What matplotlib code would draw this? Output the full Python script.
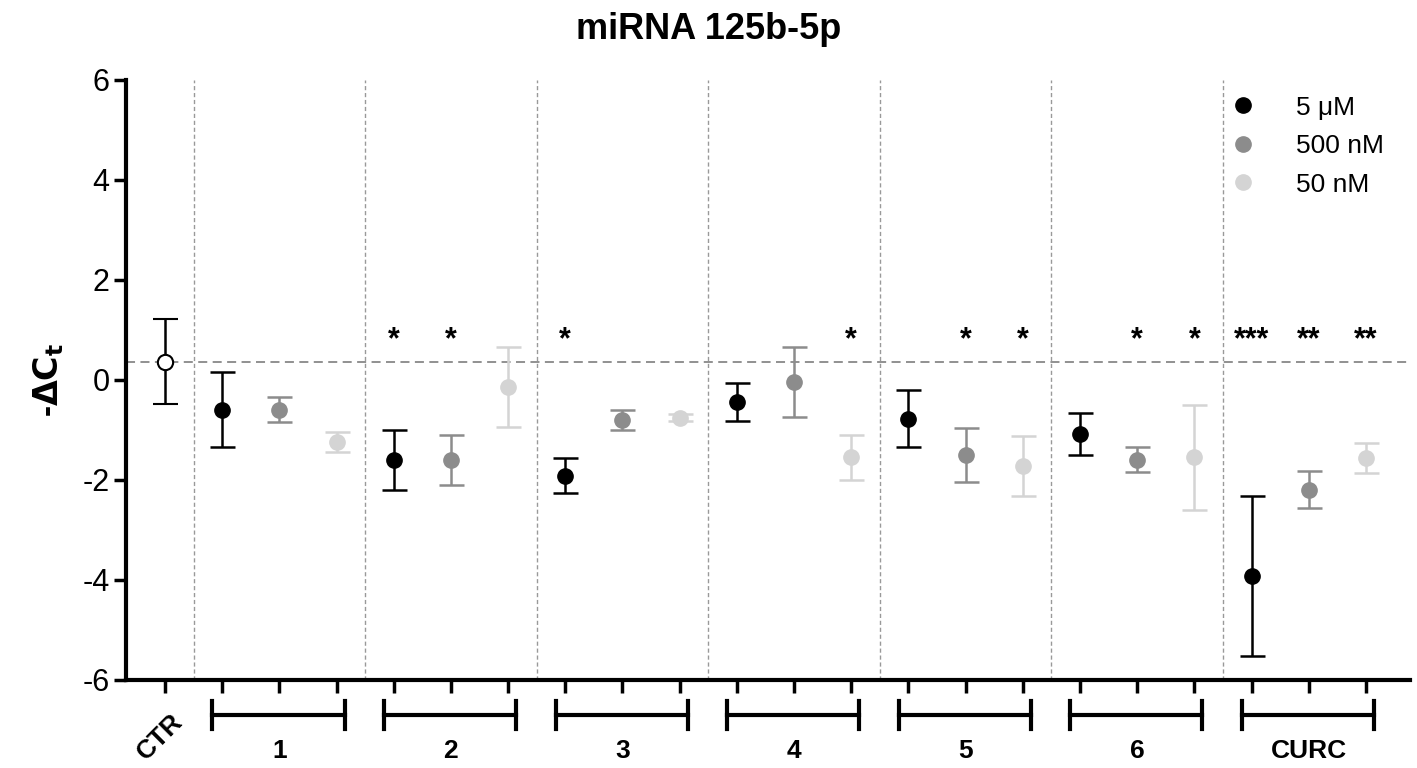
import matplotlib.pyplot as plt
import numpy as np

groups = ["1", "2", "3", "4", "5", "6", "CURC"]
doses = ["5 \u03bcM", "500 nM", "50 nM"]
colors = ["#000000", "#8c8c8c", "#d4d4d4"]

ctr_mean = 0.36
ctr_err = 0.85

# rows = groups, columns = doses
means = np.array([
    [-0.60, -0.60, -1.25],
    [-1.60, -1.60, -0.15],
    [-1.92, -0.80, -0.76],
    [-0.45, -0.05, -1.55],
    [-0.78, -1.50, -1.72],
    [-1.08, -1.60, -1.55],
    [-3.92, -2.20, -1.56],
])
errs = np.array([
    [0.75, 0.25, 0.20],
    [0.60, 0.50, 0.80],
    [0.35, 0.20, 0.07],
    [0.38, 0.70, 0.45],
    [0.57, 0.54, 0.60],
    [0.42, 0.25, 1.05],
    [1.60, 0.37, 0.30],
])
stars = [
    ["", "", ""],
    ["*", "*", ""],
    ["*", "", ""],
    ["", "", "*"],
    ["", "*", "*"],
    ["", "*", "*"],
    ["***", "**", "**"],
]

plt.rcParams['font.family'] = ['Liberation Sans', 'DejaVu Sans']
plt.rcParams['axes.unicode_minus'] = False

fig = plt.figure(figsize=(14.17, 7.68), dpi=100)
ax = fig.add_axes([0.089, 0.1146, 0.906, 0.7815])

# control
ax.errorbar([0], [ctr_mean], yerr=[ctr_err], fmt='o', mfc='white', mec='black',
            ms=11, mew=1.5, ecolor='black', elinewidth=1.8, capsize=9, capthick=1.8, zorder=3)

for g in range(len(groups)):
    for d in range(3):
        x = 1 + g * 3 + d
        ax.errorbar([x], [means[g, d]], yerr=[errs[g, d]], fmt='o', color=colors[d],
                    ms=11, ecolor=colors[d], elinewidth=1.8, capsize=9, capthick=1.8, zorder=3)
        if stars[g][d]:
            ax.text(x, 0.8, stars[g][d], ha='center', va='center', fontsize=22, fontweight='bold')
    # group separators
    ax.axvline(0.5 + g * 3, color='#999999', lw=1, ls=(0, (3, 2)), zorder=1)

ax.axhline(ctr_mean, color='#888888', lw=1.3, ls=(0, (5, 3)), zorder=1)

# legend
for d in range(3):
    ax.plot([], [], 'o', color=colors[d], ms=11, label=doses[d])
ax.legend(loc='upper right', frameon=False, fontsize=19, handletextpad=1.0,
          borderaxespad=0.2, labelspacing=0.55, bbox_to_anchor=(0.992, 1.0))

ax.set_xlim(-0.68, 21.77)
ax.set_ylim(-6, 6)
ax.set_yticks(np.arange(-6, 7, 2))
ax.set_xticks(np.arange(0, 22))
ax.set_xticklabels([])
ax.tick_params(axis='both', width=2.5, length=9, labelsize=22)
ax.tick_params(axis='y', pad=3)
for s in ['top', 'right']:
    ax.spines[s].set_visible(False)
for s in ['left', 'bottom']:
    ax.spines[s].set_linewidth(3)

# group brackets below the axis
trans = ax.get_xaxis_transform()
for g in range(len(groups)):
    x0 = 1 + g * 3 - 0.17
    x1 = 1 + g * 3 + 2 + 0.14
    ax.plot([x0, x1], [-0.058, -0.058], color='black', lw=3, transform=trans, clip_on=False)
    ax.plot([x0, x0], [-0.035, -0.082], color='black', lw=3, transform=trans, clip_on=False)
    ax.plot([x1, x1], [-0.035, -0.082], color='black', lw=3, transform=trans, clip_on=False)
    ax.text(1 + g * 3 + 1, -0.118, groups[g], transform=trans, ha='center', va='center',
            fontsize=19, fontweight='bold')
ax.text(-0.08, -0.095, "CTR", transform=trans, ha='center', va='center', rotation=45,
        fontsize=19, fontweight='bold')

ax.set_ylabel(r"-$\mathbf{\Delta C_t}$", fontsize=24, fontweight='bold', labelpad=12)
fig.suptitle("miRNA 125b-5p", fontsize=26, fontweight='bold', y=0.985)

fig.savefig("out.png", dpi=100)
